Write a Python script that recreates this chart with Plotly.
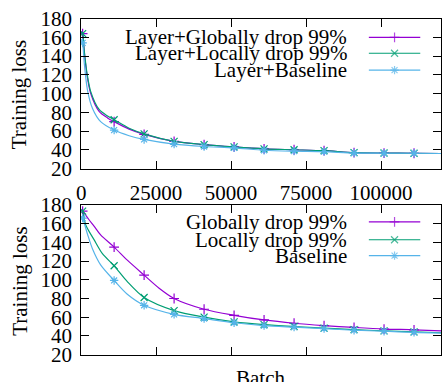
import plotly.graph_objects as go

# ---------------- data ----------------
MARK_BATCHES = [500, 11000, 21000, 31000, 41000, 51000, 61000, 71000, 81000, 91000, 101000, 111000]

# top panel (Layer+...)
top_glob_x = [0, 500, 1000, 1900, 3200, 6000, 8800, 11000, 16000, 21000, 31000, 41000, 51000, 61000, 71000, 81000, 91000, 101000, 111000, 120000]
top_glob_y = [166, 164, 146, 121, 100, 81, 74, 70, 62, 56.5, 49, 45.5, 43, 41, 40, 39, 37, 36.5, 36.3, 36]
top_loc_x = [0, 500, 1000, 1900, 3200, 6000, 8800, 11000, 16000, 21000, 31000, 41000, 51000, 61000, 71000, 81000, 91000, 101000, 111000, 120000]
top_loc_y = [166, 164, 147, 123, 102, 83, 76, 72, 63, 57, 49, 45.5, 43, 41, 40, 39, 37, 36.5, 36.3, 36]
top_base_x = [0, 500, 1000, 2100, 3800, 6500, 11000, 16000, 21000, 31000, 41000, 51000, 61000, 71000, 81000, 91000, 101000, 111000, 120000]
top_base_y = [158, 154, 134, 104, 84, 70, 61, 55, 51, 46, 43.5, 42, 39.5, 38.5, 38, 36.5, 36.3, 36.3, 36]

# bottom panel
bot_glob_x = [0, 500, 2700, 4300, 6500, 11000, 15400, 21000, 26000, 31000, 41000, 51000, 61000, 71000, 81000, 91000, 101000, 111000, 120000]
bot_glob_y = [175, 173.5, 164, 157.5, 148, 135, 121, 105, 91, 80, 68.5, 62, 57, 53.5, 51, 49, 47.3, 46.5, 45.3]
bot_loc_x = [0, 500, 1500, 4300, 7100, 11000, 15400, 21000, 31000, 41000, 51000, 61000, 71000, 81000, 91000, 101000, 111000, 120000]
bot_loc_y = [175, 173.5, 159, 143, 128, 115, 98, 81, 67, 60, 55, 52, 50, 48.3, 46.7, 45.3, 44.3, 43.3]
bot_base_x = [0, 500, 2100, 3800, 6500, 11000, 15400, 21000, 31000, 41000, 51000, 61000, 71000, 81000, 91000, 101000, 111000, 120000]
bot_base_y = [168, 166, 149, 133, 116, 99.3, 84.5, 72.7, 63, 58.5, 54, 51, 49.3, 47.7, 46, 45, 43.7, 43]

top_names = ["Layer+Globally drop 99%", "Layer+Locally drop 99%", "Layer+Baseline"]
bot_names = ["Globally drop 99%", "Locally drop 99%", "Baseline"]

x_ticks = [0, 25000, 50000, 75000, 100000]
y_ticks = [20, 40, 60, 80, 100, 120, 140, 160, 180]

COLORS = ["#9400D3", "#009E73", "#56B4E9"]
SYMBOLS = ["cross-thin", "x-thin", "asterisk"]

W, H = 443, 382
FONT = "Liberation Serif"
FS = 21
MS = 7

fig = go.Figure()

def add_series(xs, ys, color, symbol, xa, ya):
    fig.add_trace(go.Scatter(x=xs, y=ys, mode="lines", xaxis=xa, yaxis=ya,
                             line=dict(color=color, width=1.2, shape="spline", smoothing=0.8),
                             showlegend=False, hoverinfo="skip"))
    mx = [x for x in xs if x in MARK_BATCHES]
    my = [y for x, y in zip(xs, ys) if x in MARK_BATCHES]
    fig.add_trace(go.Scatter(x=mx, y=my, mode="markers", xaxis=xa, yaxis=ya,
                             marker=dict(symbol=symbol, size=MS, color=color,
                                         line=dict(color=color, width=1.2)),
                             showlegend=False, hoverinfo="skip"))

top_series = [(top_glob_x, top_glob_y), (top_loc_x, top_loc_y), (top_base_x, top_base_y)]
bot_series = [(bot_glob_x, bot_glob_y), (bot_loc_x, bot_loc_y), (bot_base_x, bot_base_y)]

for i, (xs, ys) in enumerate(top_series):
    add_series(xs, ys, COLORS[i], SYMBOLS[i], "x", "y")
for i, (xs, ys) in enumerate(bot_series):
    add_series(xs, ys, COLORS[i], SYMBOLS[i], "x2", "y2")

# legend samples drawn on a pixel-unit overlay axis
leg_rows_top = [27, 44, 62]
leg_rows_bot = [224, 243, 260]
LEG_TEXT_RIGHT = 348
LEG_LINE = [368, 394, 420]
for rows, names in ((leg_rows_top, top_names), (leg_rows_bot, bot_names)):
    for i, (ry, name) in enumerate(zip(rows, names)):
        fig.add_trace(go.Scatter(x=LEG_LINE, y=[ry] * 3, mode="lines+markers", xaxis="x3", yaxis="y3",
                                 line=dict(color=COLORS[i], width=1.2),
                                 marker=dict(symbol=SYMBOLS[i], size=[0, MS, 0], color=COLORS[i],
                                             line=dict(color=COLORS[i], width=1.2)),
                                 showlegend=False, hoverinfo="skip"))
        fig.add_annotation(x=LEG_TEXT_RIGHT, y=ry, xref="x3", yref="y3", text=name,
                           showarrow=False, xanchor="right", yanchor="middle",
                           font=dict(family=FONT, size=FS, color="black"))

x0, x1 = 77 / W, 441 / W
top_dom = [1 - 167 / H, 1 - 7 / H]
bot_dom = [1 - 365.5 / H, 1 - 206 / H]

axis_common = dict(showline=True, linecolor="black", linewidth=1, mirror="allticks",
                   ticks="inside", ticklen=8, tickcolor="black", tickwidth=1,
                   showgrid=False, zeroline=False,
                   tickfont=dict(family=FONT, size=FS, color="black"))

fig.update_layout(
    width=W, height=H,
    margin=dict(l=0, r=0, t=0, b=0),
    font=dict(family=FONT, size=FS, color="black"),
    paper_bgcolor="white", plot_bgcolor="rgba(0,0,0,0)",
    xaxis=dict(domain=[x0, x1], range=[0, 120000], tickvals=x_ticks,
               ticktext=[str(v) for v in x_ticks], anchor="y", ticklabelstandoff=5, **axis_common),
    yaxis=dict(domain=top_dom, range=[20, 180], tickvals=y_ticks, anchor="x",
               ticklabelstandoff=4, **axis_common),
    xaxis2=dict(domain=[x0, x1], range=[0, 120000], tickvals=x_ticks, showticklabels=False,
                anchor="y2", **axis_common),
    yaxis2=dict(domain=bot_dom, range=[20, 180], tickvals=y_ticks, anchor="x2",
                ticklabelstandoff=4, **axis_common),
    xaxis3=dict(domain=[0, 1], range=[0, W], visible=False, anchor="y3", fixedrange=True),
    yaxis3=dict(domain=[0, 1], range=[H, 0], visible=False, anchor="x3", fixedrange=True),
)

# axis titles
for yc in (88, 287):
    fig.add_annotation(x=15 / W, y=1 - yc / H, xref="paper", yref="paper", text="Training loss",
                       textangle=-90, showarrow=False, xanchor="center", yanchor="middle",
                       font=dict(family=FONT, size=FS, color="black"))
fig.add_annotation(x=258 / W, y=1 - 376 / H, xref="paper", yref="paper", text="Batch",
                   showarrow=False, xanchor="center", yanchor="top",
                   font=dict(family=FONT, size=FS, color="black"))

fig.write_html("out.html")
